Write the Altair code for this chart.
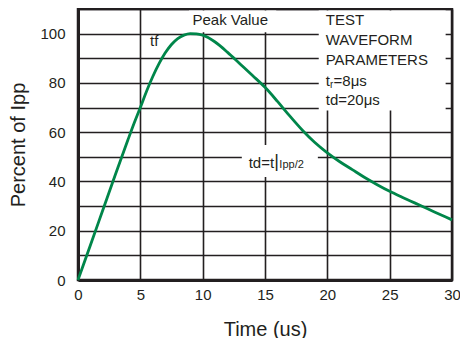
import altair as alt
import pandas as pd

# Curve (time in us, percent of Ipp)
time_us = [0, 1, 2, 3, 4, 4.5, 5, 5.5, 6, 6.5, 7, 7.5, 8, 8.5, 9, 9.5, 10, 11, 12, 13, 14, 15,
           16, 17, 18, 19, 20, 21, 22, 23, 24, 25, 26, 27, 28, 29, 30]
percent_ipp = [0, 14.2, 28.5, 42.8, 56.8, 63.6, 70, 76.6, 82.6, 87.8, 92.2, 95.6, 98, 99.4, 100,
               99.9, 99.4, 96.6, 92.4, 87.7, 83, 78.2, 72.5, 66.5, 60.8, 55.8, 51.6, 48, 44.8,
               41.6, 38.7, 36, 33.6, 31.3, 29, 26.7, 24.4]

x_ticks = [0, 5, 10, 15, 20, 25, 30]
y_grid = [0, 10, 20, 30, 40, 50, 60, 70, 80, 90, 100, 110]

# Annotation texts (data coordinates, left aligned)
ann_text = ["Peak Value", "tf", "TEST", "WAVEFORM", "PARAMETERS", "t", "r", "=8μs",
            "td=20μs", "td=t", "|", "Ipp/2"]
ann_x = [9.18, 5.78, 19.87, 19.87, 19.87, 19.87, 20.22, 20.5, 19.87, 13.69, 15.75, 16.15]
ann_y = [105.7, 97.0, 105.5, 97.4, 89.1, 80.8, 79.1, 80.8, 72.9, 47.5, 47.9, 46.7]
ann_size = [15, 15, 15, 15, 15, 15, 10, 15, 15, 15, 18, 11]

# White label boxes that hide the grid
box_x = [8.9, 19.31, 13.14]
box_x2 = [15.9, 29.49, 19.24]
box_y = [100.6, 68.8, 41.8]
box_y2 = [109.4, 109.4, 54.8]

ink = "#231f20"
xs = alt.Scale(domain=[0, 30], nice=False)
ys = alt.Scale(domain=[0, 110], nice=False)

curve = pd.DataFrame({"x": time_us, "y": percent_ipp})
ann = pd.DataFrame({"x": ann_x, "y": ann_y, "text": ann_text, "size": ann_size})
boxes = pd.DataFrame({"x": box_x, "x2": box_x2, "y": box_y, "y2": box_y2})

x_axis = alt.Axis(values=x_ticks, grid=True, gridColor=ink, gridWidth=1.6, gridOpacity=1,
                  ticks=False, domain=True, domainColor=ink, domainWidth=3,
                  labelFontSize=15, labelColor=ink, labelPadding=7, labelFlush=False,
                  labelOverlap=False, labelBound=False,
                  title="Time (us)", titleFontSize=20, titleFontWeight="normal",
                  titleColor=ink, titlePadding=17)
y_axis = alt.Axis(values=y_grid, grid=True, gridColor=ink, gridWidth=1.6, gridOpacity=1,
                  ticks=False, domain=True, domainColor=ink, domainWidth=3,
                  labelExpr="(datum.value % 20 == 0 && datum.value <= 100) ? datum.label : ''",
                  labelFontSize=15, labelColor=ink, labelPadding=13, labelFlush=False,
                  title="Percent of Ipp", titleFontSize=20, titleFontWeight="normal",
                  titleColor=ink, titlePadding=11)

X = alt.X("x:Q", scale=xs, axis=x_axis)
Y = alt.Y("y:Q", scale=ys, axis=y_axis)

line = alt.Chart(curve).mark_line(color="#00864a", strokeWidth=2.8, interpolate="monotone").encode(
    x=X, y=Y,
)

rects = alt.Chart(boxes).mark_rect(fill="white", opacity=1).encode(
    x=X, x2="x2:Q", y=Y, y2="y2:Q",
)

texts = alt.Chart(ann).mark_text(align="left", baseline="middle", color=ink).encode(
    x=X, y=Y,
    text="text:N",
    size=alt.Size("size:Q", scale=None, legend=None),
)

chart = alt.layer(rects, line, texts).properties(
    width=374, height=271,
    autosize="none",
    padding={"left": 70, "top": 1, "right": 8, "bottom": 58},
).configure(font="Liberation Sans").configure_view(stroke=ink, strokeWidth=2.5)

chart.save("out.html", embed_options={"renderer": "svg", "actions": False})
